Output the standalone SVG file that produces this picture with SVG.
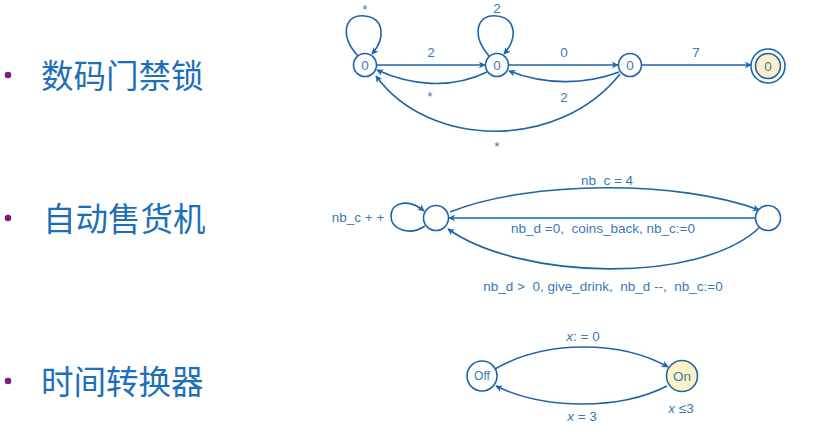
<svg xmlns="http://www.w3.org/2000/svg" width="815" height="434" viewBox="0 0 815 434">
<style>
.n{fill:#fff;stroke:#1f64a8;stroke-width:1.6}
.e{fill:none;stroke:#1f64a8;stroke-width:1.6}
.l{font-family:"Liberation Sans",Arial,sans-serif;font-size:13.5px;fill:#3a78b8;text-anchor:middle;white-space:pre}
.s{font-family:"Liberation Sans",Arial,sans-serif;font-size:12px;fill:#3a78b8;text-anchor:middle}
.h{font-family:"Noto Sans CJK SC","Noto Sans",sans-serif;font-size:32.5px;fill:#1c6fb8}
.b{fill:#7a1c7c}
</style>
<defs>
<marker id="a" viewBox="0 0 10 10" refX="9" refY="5" markerWidth="7" markerHeight="7" orient="auto" markerUnits="userSpaceOnUse">
<path d="M0,0 L10,5 L0,10 L3,5 Z" fill="#1f64a8"/>
</marker>
</defs>
<rect width="815" height="434" fill="#fff"/>
<g id="titles">
<circle class="b" cx="8" cy="75" r="3.3"/>
<text class="h" x="41" y="88">数码门禁锁</text>
<circle class="b" cx="8" cy="218" r="3.3"/>
<text class="h" x="43" y="231">自动售货机</text>
<circle class="b" cx="8" cy="381" r="3.3"/>
<text class="h" x="41" y="394">时间转换器</text>
</g>
<g id="connectors">
<path class="e" d="M358,56 C338,34 346,13 365,16 C384,18 386,38 372,54" marker-end="url(#a)"/>
<path class="e" d="M377,65 L485,65" marker-end="url(#a)"/>
<path class="e" d="M489,56 C470,34 478,13 497,16 C516,18 518,38 504,54" marker-end="url(#a)"/>
<path class="e" d="M509,65 L618,65" marker-end="url(#a)"/>
<path class="e" d="M642,65 L751,65" marker-end="url(#a)"/>
<path class="e" d="M487,72 C450,90 410,85 377,70" marker-end="url(#a)"/>
<path class="e" d="M619,72 C585,85 545,85 509,71" marker-end="url(#a)"/>
<path class="e" d="M620,74 C560,150 430,150 376,76" marker-end="url(#a)"/>
<path class="e" d="M425,226 C410,236 391,230 391,216 C391,201 410,199 424,211" marker-end="url(#a)"/>
<path class="e" d="M450,212 C530,180 680,180 759,210" marker-end="url(#a)"/>
<path class="e" d="M756,218 L449,218" marker-end="url(#a)"/>
<path class="e" d="M760,227 C700,285 520,280 448,229" marker-end="url(#a)"/>
<path class="e" d="M495,369 C545,340 620,340 668,367" marker-end="url(#a)"/>
<path class="e" d="M667,386 C620,410 545,410 496,386" marker-end="url(#a)"/>
</g>
<g id="s0"><circle class="n" cx="365" cy="65" r="11.5"/><text class="l" x="365" y="70">0</text></g>
<g id="s1"><circle class="n" cx="497" cy="65" r="11.5"/><text class="l" x="497" y="70">0</text></g>
<g id="s2"><circle class="n" cx="630" cy="65" r="11.5"/><text class="l" x="630" y="70">0</text></g>
<g id="s3"><circle class="n" cx="768" cy="66" r="17"/><circle class="n" cx="768" cy="66" r="12.5" style="fill:#fcefc8"/><text class="l" x="768" y="71">0</text></g>
<g id="v0"><circle class="n" cx="436" cy="218" r="12.5"/></g>
<g id="v1"><circle class="n" cx="768" cy="218" r="12.5"/></g>
<g id="off"><circle class="n" cx="482" cy="376" r="15"/><text class="s" x="482" y="380">Off</text></g>
<g id="on"><circle class="n" cx="682" cy="376" r="15.5" style="fill:#fcf3c4"/><text class="l" x="682" y="381">On</text></g>
<g id="labels">
<text class="l" x="365" y="14">*</text>
<text class="l" x="497" y="13">2</text>
<text class="l" x="431" y="57">2</text>
<text class="l" x="564" y="57">0</text>
<text class="l" x="696" y="57">7</text>
<text class="l" x="430" y="101">*</text>
<text class="l" x="564" y="102">2</text>
<text class="l" x="497" y="151">*</text>
<text class="l" x="358" y="222">nb_c + +</text>
<text class="l" x="607" y="185">nb_c = 4</text>
<text class="l" x="603" y="233">nb_d =0,  coins_back, nb_c:=0</text>
<text class="l" x="603" y="291">nb_d &gt;  0, give_drink,  nb_d --,  nb_c:=0</text>
<text class="l" x="583" y="341"><tspan font-style="italic">x</tspan>: = 0</text>
<text class="l" x="582" y="421"><tspan font-style="italic">x</tspan> = 3</text>
<text class="l" x="681" y="413"><tspan font-style="italic">x</tspan> ≤3</text>
</g>
</svg>
